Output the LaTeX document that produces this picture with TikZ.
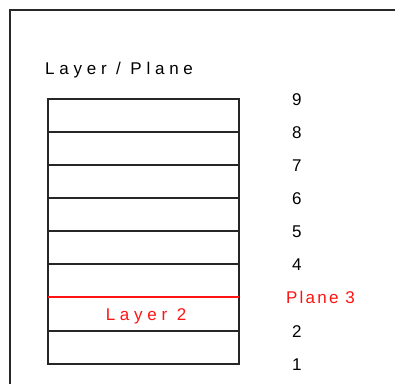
\documentclass[tikz,border=0pt]{standalone}
\usepackage{fontspec}
\setmainfont{Liberation Sans}
\definecolor{planered}{RGB}{255,20,20}
\definecolor{framegray}{RGB}{40,40,40}
\begin{document}
\begin{tikzpicture}[x=1pt,y=-1pt,
  lbl/.style={inner sep=0pt,font=\fontsize{17}{19}\selectfont},
  spaced/.style={lbl,font=\fontsize{17}{19}\selectfont\addfontfeature{LetterSpace=28}},
  layerline/.style={line width=1.8pt,draw=black!85},
  redline/.style={line width=1.8pt,draw=planered}]
\useasboundingbox (0,0) rectangle (395,383);
\fill[white] (0,0) rectangle (395,383);
% frame
\draw[line width=2pt,framegray] (10,390) -- (10,10) -- (400,10);
% title
\node[spaced,anchor=base west] (title) at (45,74) {Layer / Plane};
% stack
\draw[layerline] (48,99) rectangle (239,364);
\foreach \y in {132,165,198,231,264,331} {
  \draw[layerline] (48,\y) -- (239,\y);
}
\draw[redline] (48,297) -- (239,297);
% numbers
\foreach \k/\y in {1/364,2/331,4/264,5/231,6/198,7/165,8/132,9/99} {
  \node[lbl,anchor=base west] (n\k) at (292,\y+6) {\k};
}
\node[lbl,anchor=base west,text=planered,font=\fontsize{17}{19}\selectfont\addfontfeature{LetterSpace=13}] (p3) at (286,303) {Plane 3};
\node[spaced,anchor=base,text=planered] (l2) at (146,320) {Layer 2};
\end{tikzpicture}
\end{document}
